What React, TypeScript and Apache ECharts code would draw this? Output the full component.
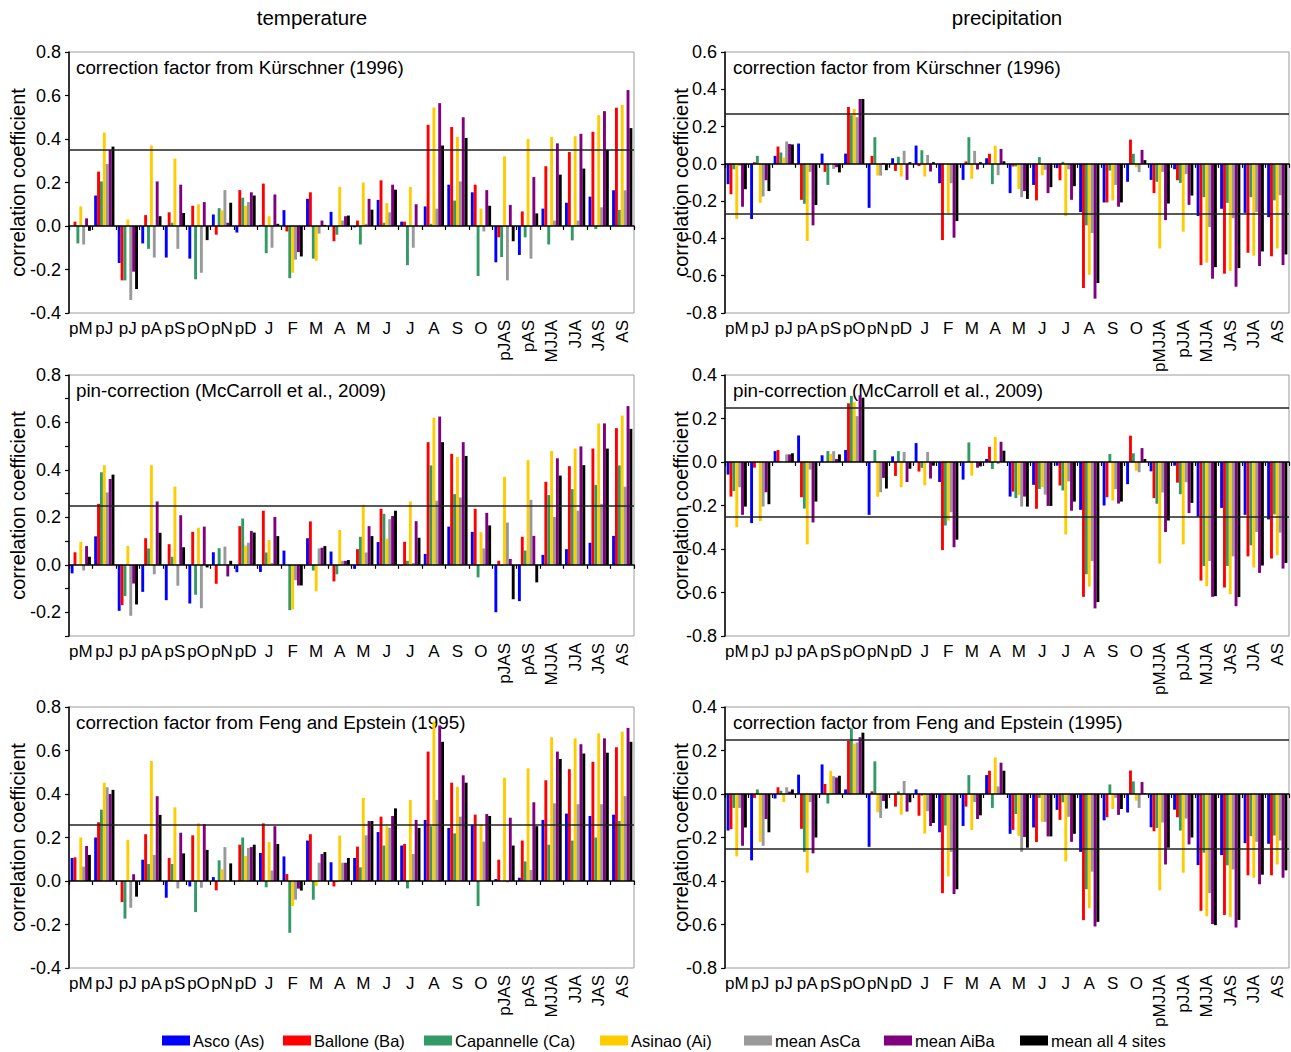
import React, { useEffect, useRef } from 'react';
import * as echarts from 'echarts';

const FONT = "'Liberation Sans', Arial, Helvetica, sans-serif";

const seriesNames = ['Asco (As)', 'Ballone (Ba)', 'Capannelle (Ca)', 'Asinao (Ai)', 'mean AsCa', 'mean AiBa', 'mean all 4 sites'];
const seriesColors = ['#0000ff', '#ff0000', '#339966', '#ffcc00', '#999999', '#800080', '#000000'];

const tempCats = ['pM', 'pJ', 'pJ', 'pA', 'pS', 'pO', 'pN', 'pD', 'J', 'F', 'M', 'A', 'M', 'J', 'J', 'A', 'S', 'O', 'pJAS', 'pAS', 'MJJA', 'JJA', 'JAS', 'AS'];
const precCats = ['pM', 'pJ', 'pJ', 'pA', 'pS', 'pO', 'pN', 'pD', 'J', 'F', 'M', 'A', 'M', 'J', 'J', 'A', 'S', 'O', 'pMJJA', 'pJJA', 'MJJA', 'JAS', 'JJA', 'AS'];

const panelTitles = [
  'correction factor from Kürschner (1996)',
  'correction factor from Kürschner (1996)',
  'pin-correction (McCarroll et al., 2009)',
  'pin-correction (McCarroll et al., 2009)',
  'correction factor from Feng and Epstein (1995)',
  'correction factor from Feng and Epstein (1995)',
];

// rows: As, Ba, Ca, Ai, mean AsCa, mean AiBa, mean all 4
const tempKurschner = [
  [0, 0.14, -0.17, -0.08, -0.145, -0.15, 0.053, -0.03, 0.005, 0.073, 0.125, 0.065, -0.006, 0.12, 0.02, 0.09, 0.19, 0.155, -0.167, -0.133, 0.08, 0.107, 0.135, 0.164],
  [0.02, 0.25, -0.25, 0.05, 0.063, 0.093, -0.04, 0.165, 0.195, -0.025, 0.155, -0.07, 0.025, 0.21, 0.02, 0.465, 0.455, 0.19, -0.052, 0.067, 0.275, 0.34, 0.433, 0.544],
  [-0.08, 0.205, -0.25, -0.105, 0.015, -0.245, 0.082, 0.13, -0.125, -0.24, -0.15, -0.04, -0.085, 0.015, -0.18, 0.01, 0.117, -0.23, -0.143, -0.052, -0.085, -0.066, -0.014, 0.074],
  [0.09, 0.43, 0.03, 0.37, 0.31, 0.1, 0.072, 0.093, 0.045, -0.215, -0.16, 0.18, 0.2, 0.105, 0.18, 0.545, 0.41, 0.08, 0.32, 0.4, 0.41, 0.413, 0.51, 0.557],
  [-0.085, 0.285, -0.34, -0.145, -0.105, -0.215, 0.165, 0.11, -0.1, -0.155, -0.035, 0.025, 0.01, 0.063, -0.1, 0.08, 0.205, -0.025, -0.25, -0.15, 0.025, 0.025, 0.086, 0.164],
  [0.035, 0.35, -0.21, 0.205, 0.19, 0.11, 0.015, 0.155, 0.145, -0.12, 0.025, 0.045, 0.125, 0.19, 0.1, 0.565, 0.5, 0.165, 0.097, 0.225, 0.38, 0.424, 0.528, 0.625],
  [-0.022, 0.365, -0.29, 0.045, 0.06, -0.065, 0.107, 0.14, 0.01, -0.14, 0.005, 0.048, 0.075, 0.167, 0, 0.37, 0.405, 0.093, -0.07, 0.058, 0.236, 0.264, 0.35, 0.45],
];

const tempPin = [
  [-0.036, 0.12, -0.194, -0.114, -0.149, -0.163, 0.053, -0.031, -0.03, 0.06, 0.112, 0.056, -0.017, 0.096, -0.003, 0.046, 0.161, 0.139, -0.2, -0.153, 0.042, 0.066, 0.093, 0.122],
  [0.053, 0.257, -0.17, 0.112, 0.087, 0.139, -0.08, 0.163, 0.228, 0, 0.183, -0.07, 0.066, 0.236, 0.097, 0.517, 0.468, 0.236, 0.017, 0.118, 0.35, 0.416, 0.49, 0.576],
  [0, 0.39, -0.132, 0.069, 0.034, -0.126, 0.07, 0.195, 0.052, -0.191, -0.024, -0.04, 0.118, 0.215, 0.017, 0.419, 0.298, -0.053, -0.003, 0.06, 0.294, 0.319, 0.337, 0.419],
  [0.097, 0.42, 0.079, 0.42, 0.33, 0.156, 0, 0.081, 0.105, -0.188, -0.112, 0.147, 0.253, 0.11, 0.267, 0.62, 0.455, 0.138, 0.371, 0.441, 0.48, 0.49, 0.596, 0.629],
  [-0.024, 0.305, -0.215, -0.04, -0.088, -0.183, 0.077, 0.093, 0.008, -0.065, 0.069, 0.017, 0.052, 0.192, 0.008, 0.27, 0.284, 0.069, 0.178, 0.274, 0.202, 0.228, 0.257, 0.329],
  [0.079, 0.362, -0.079, 0.267, 0.209, 0.161, -0.049, 0.143, 0.202, -0.087, 0.072, 0.017, 0.163, 0.206, 0.184, 0.625, 0.517, 0.219, 0.025, 0.122, 0.449, 0.499, 0.596, 0.669],
  [0.034, 0.38, -0.167, 0.135, 0.074, -0.011, 0.017, 0.136, 0.121, -0.087, 0.079, 0.02, 0.121, 0.228, 0.114, 0.517, 0.459, 0.166, -0.145, -0.074, 0.376, 0.42, 0.49, 0.573],
];

const tempFeng = [
  [0.106, 0.2, 0, 0.098, -0.077, -0.025, 0.018, 0, 0.129, 0.113, 0.186, 0.086, 0.106, 0.225, 0.163, 0.281, 0.244, 0.259, 0.009, 0.015, 0.281, 0.31, 0.299, 0.305],
  [0.109, 0.27, -0.097, 0.215, 0.106, 0.21, -0.043, 0.167, 0.265, 0.032, 0.215, -0.025, 0.158, 0.296, 0.17, 0.595, 0.452, 0.305, 0.098, 0.186, 0.463, 0.514, 0.548, 0.615],
  [0.003, 0.328, -0.173, 0.078, 0.078, -0.143, 0.095, 0.2, -0.029, -0.238, -0.086, -0.005, 0.063, 0.163, -0.034, 0.252, 0.219, -0.115, 0, 0.09, 0.167, 0.186, 0.2, 0.276],
  [0.2, 0.452, 0.19, 0.552, 0.339, 0.265, 0.054, 0.115, 0.179, -0.115, -0.023, 0.209, 0.382, 0.252, 0.373, 0.733, 0.433, 0.259, 0.475, 0.518, 0.661, 0.656, 0.679, 0.687],
  [0.066, 0.431, -0.123, 0.12, -0.034, -0.031, 0.156, 0.152, 0.048, -0.086, 0.084, 0.084, 0.21, 0.245, 0.124, 0.373, 0.296, 0.181, -0.006, 0.051, 0.357, 0.353, 0.353, 0.39],
  [0.161, 0.4, 0.031, 0.39, 0.222, 0.262, 0, 0.156, 0.252, -0.035, 0.124, 0.084, 0.276, 0.299, 0.281, 0.715, 0.486, 0.308, 0.291, 0.362, 0.595, 0.629, 0.656, 0.704],
  [0.12, 0.419, -0.072, 0.304, 0.127, 0.143, 0.081, 0.167, 0.17, -0.044, 0.133, 0.106, 0.276, 0.334, 0.244, 0.64, 0.452, 0.299, 0.163, 0.252, 0.561, 0.586, 0.59, 0.64],
];

const precKurschner = [
  [-0.109, -0.296, 0.043, 0.109, 0.055, 0.055, -0.236, 0.03, 0.098, -0.104, -0.086, 0.03, -0.157, -0.113, -0.023, -0.259, -0.207, -0.096, -0.086, -0.029, -0.28, -0.241, -0.263, -0.286],
  [-0.163, 0.009, 0.093, -0.193, -0.043, 0.305, 0.043, -0.038, -0.012, -0.409, 0.013, 0.054, -0.014, -0.196, -0.088, -0.666, -0.207, 0.13, -0.157, -0.088, -0.543, -0.589, -0.477, -0.496],
  [-0.029, 0.043, 0.061, -0.214, -0.113, 0.261, 0.143, 0.038, 0.073, 0, 0.143, -0.109, -0.014, 0.036, 0.011, -0.33, -0.036, 0.054, -0.096, -0.102, -0.179, -0.209, -0.179, -0.196],
  [-0.296, -0.209, 0.034, -0.414, 0, 0.295, -0.063, -0.068, -0.068, -0.264, -0.08, 0.098, -0.136, -0.061, -0.28, -0.595, -0.196, -0.018, -0.454, -0.364, -0.53, -0.575, -0.493, -0.454],
  [-0.01, -0.175, 0.12, -0.043, -0.027, 0.25, -0.063, 0.07, 0.048, -0.104, 0.07, -0.061, -0.179, -0.032, -0.029, -0.371, -0.113, -0.045, -0.043, -0.055, -0.339, -0.291, -0.259, -0.168],
  [-0.23, -0.088, 0.107, -0.33, -0.018, 0.348, 0.005, -0.086, -0.041, -0.396, -0.03, 0.08, -0.146, -0.157, -0.193, -0.723, -0.23, 0.075, -0.302, -0.22, -0.616, -0.659, -0.548, -0.543],
  [-0.136, -0.146, 0.104, -0.221, -0.046, 0.348, -0.034, 0.009, 0.009, -0.307, 0.009, 0.014, -0.188, -0.125, -0.12, -0.639, -0.207, 0.02, -0.213, -0.17, -0.554, -0.559, -0.47, -0.486],
];

const precPin = [
  [-0.058, -0.281, 0.05, 0.122, 0.031, 0.055, -0.243, 0.026, 0.087, -0.092, -0.081, 0.014, -0.159, -0.105, -0.017, -0.22, -0.2, -0.102, -0.043, -0.017, -0.252, -0.211, -0.243, -0.264],
  [-0.159, -0.026, 0.055, -0.162, 0, 0.27, 0, -0.064, -0.044, -0.405, -0.002, 0.07, -0.136, -0.215, -0.108, -0.62, -0.162, 0.121, -0.166, -0.095, -0.545, -0.577, -0.434, -0.444],
  [-0.134, 0, 0.003, -0.214, 0.05, 0.304, 0.055, 0.05, -0.027, -0.292, 0.09, -0.032, -0.166, -0.124, -0.131, -0.516, 0.037, 0.04, -0.192, -0.148, -0.478, -0.478, -0.383, -0.241],
  [-0.3, -0.272, 0, -0.379, 0.037, 0.275, -0.16, -0.116, -0.107, -0.269, -0.063, 0.115, -0.151, -0.116, -0.333, -0.573, -0.177, -0.04, -0.467, -0.379, -0.571, -0.608, -0.485, -0.429],
  [-0.116, -0.205, 0.035, -0.035, 0.05, 0.211, -0.139, 0.046, 0.046, -0.231, 0, -0.009, -0.205, -0.15, -0.089, -0.456, -0.125, -0.047, -0.14, -0.093, -0.455, -0.434, -0.322, -0.325],
  [-0.243, -0.139, 0.035, -0.278, 0.014, 0.307, -0.073, -0.092, -0.076, -0.392, -0.026, 0.093, -0.159, -0.202, -0.224, -0.673, -0.191, 0.064, -0.322, -0.235, -0.62, -0.663, -0.51, -0.49],
  [-0.205, -0.194, 0.04, -0.182, 0.035, 0.296, -0.122, -0.031, -0.017, -0.357, -0.02, 0.052, -0.205, -0.202, -0.182, -0.644, -0.182, 0.014, -0.269, -0.188, -0.617, -0.621, -0.476, -0.464],
];

const precFeng = [
  [-0.168, -0.305, -0.021, 0.089, 0.136, 0.021, -0.243, 0, 0.021, -0.176, -0.147, 0.087, -0.183, -0.154, -0.073, -0.266, -0.121, -0.085, -0.153, -0.072, -0.327, -0.281, -0.226, -0.229],
  [-0.162, -0.018, 0.031, -0.16, 0.046, 0.244, 0.012, -0.058, -0.1, -0.456, -0.058, 0.107, -0.165, -0.221, -0.119, -0.58, -0.107, 0.108, -0.171, -0.107, -0.537, -0.556, -0.374, -0.374],
  [-0.064, 0.021, 0.015, -0.266, -0.044, 0.302, 0.15, 0.012, -0.008, -0.145, 0.087, -0.064, -0.092, -0.018, -0.038, -0.438, 0.044, 0.058, -0.156, -0.168, -0.27, -0.328, -0.194, -0.191],
  [-0.287, -0.22, -0.037, -0.362, 0.107, 0.232, -0.084, -0.095, -0.182, -0.379, -0.166, 0.168, -0.192, -0.128, -0.31, -0.525, -0.069, -0.031, -0.443, -0.362, -0.562, -0.565, -0.385, -0.324],
  [-0.064, -0.238, 0.031, -0.037, 0.082, 0.237, -0.11, 0.06, -0.079, -0.267, -0.037, 0.035, -0.266, -0.128, -0.105, -0.357, -0.018, -0.064, -0.131, -0.113, -0.456, -0.347, -0.22, -0.214],
  [-0.238, -0.115, 0.011, -0.273, 0.076, 0.261, -0.032, -0.081, -0.147, -0.46, -0.115, 0.144, -0.198, -0.195, -0.22, -0.609, -0.096, 0.055, -0.324, -0.232, -0.598, -0.614, -0.415, -0.385],
  [-0.154, -0.176, 0.021, -0.2, 0.084, 0.282, -0.067, -0.038, -0.133, -0.438, -0.098, 0.107, -0.247, -0.195, -0.183, -0.588, -0.069, 0.003, -0.247, -0.2, -0.603, -0.579, -0.371, -0.351],
];

// panel order: row-major (temp left, prec right)
const panelData = [tempKurschner, precKurschner, tempPin, precPin, tempFeng, precFeng];
const panelIsTemp = [true, false, true, false, true, false];
const panelThresholds = [0.35, 0.27, 0.25, 0.25, 0.26, 0.25];
const panelYMin = [-0.4, -0.8, -0.3, -0.8, -0.4, -0.8];
const panelYMax = [0.8, 0.6, 0.8, 0.4, 0.8, 0.4];
const panelYInterval = [0.2, 0.2, 0.1, 0.2, 0.2, 0.2];

const rowTops = [52, 375, 707];
const colLefts = [69, 725];
const colWidths = [565, 564];
const plotHeight = 261;
const legendLefts = [162, 283, 424, 600, 744, 884, 1020];

function fmtTick(v: number) {
  const r = Math.round(v * 10);
  if (r % 2 !== 0) return '';
  return (r / 10).toFixed(1);
}

function buildOption() {
  const grid: any[] = [];
  const xAxis: any[] = [];
  const yAxis: any[] = [];
  const series: any[] = [];
  const graphic: any[] = [];

  panelData.forEach((rows, i) => {
    const col = i % 2;
    const row = Math.floor(i / 2);
    const cats = panelIsTemp[i] ? tempCats : precCats;
    grid.push({
      left: colLefts[col],
      top: rowTops[row],
      width: colWidths[col],
      height: plotHeight,
      show: true,
      borderColor: '#9a9a9a',
      borderWidth: 1,
      backgroundColor: 'transparent',
    });
    const base = xAxis.length;
    xAxis.push({
      type: 'category',
      gridIndex: i,
      data: cats,
      position: 'bottom',
      axisLine: { show: true, onZero: true, lineStyle: { color: '#000', width: 1.5 } },
      axisTick: { show: true, interval: 0, length: 4, lineStyle: { color: '#000', width: 1.2 } },
      axisLabel: { show: false },
      splitLine: { show: false },
      z: 5,
    });
    xAxis.push({
      type: 'category',
      gridIndex: i,
      data: cats,
      position: 'bottom',
      axisLine: { show: false, onZero: false },
      axisTick: { show: false },
      splitLine: { show: false },
      axisLabel: {
        interval: 0,
        margin: 7,
        fontSize: 17,
        fontFamily: FONT,
        color: '#000',
        formatter: (v: string, idx: number) => (idx < 18 ? v : ''),
      },
    });
    xAxis.push({
      type: 'category',
      gridIndex: i,
      data: cats,
      position: 'bottom',
      axisLine: { show: false, onZero: false },
      axisTick: { show: false },
      splitLine: { show: false },
      axisLabel: {
        interval: 0,
        rotate: 90,
        margin: 7,
        fontSize: 17,
        fontFamily: FONT,
        color: '#000',
        formatter: (v: string, idx: number) => (idx >= 18 ? v : ''),
      },
    });
    yAxis.push({
      type: 'value',
      gridIndex: i,
      min: panelYMin[i],
      max: panelYMax[i],
      interval: panelYInterval[i],
      axisLine: { show: true, onZero: false, lineStyle: { color: '#000', width: 1.5 } },
      axisTick: { show: true, length: 4, lineStyle: { color: '#000', width: 1.2 } },
      splitLine: { show: false },
      axisLabel: { formatter: fmtTick, fontSize: 18, fontFamily: FONT, color: '#000', margin: 8 },
      name: 'correlation coefficient',
      nameLocation: 'middle',
      nameRotate: 90,
      nameMoveOverlap: false,
      nameGap: col === 0 ? 41 : 34,
      nameTextStyle: { fontSize: 20, fontFamily: FONT, color: '#000' },
    });
    const t = panelThresholds[i];
    const mlData = panelIsTemp[i] ? [{ yAxis: t }] : [{ yAxis: t }, { yAxis: -t }];
    rows.forEach((vals, s) => {
      series.push({
        type: 'bar',
        name: seriesNames[s],
        xAxisIndex: base,
        yAxisIndex: i,
        data: vals,
        itemStyle: { color: seriesColors[s] },
        barGap: '0%',
        barCategoryGap: '14%',
        silent: true,
        markLine:
          s === 6
            ? {
                silent: true,
                symbol: ['none', 'none'],
                label: { show: false },
                lineStyle: { color: '#222', width: 1.5, type: 'solid' },
                data: mlData,
              }
            : undefined,
      });
    });
    graphic.push({
      type: 'text',
      x: col === 0 ? 76 : 733,
      y: rowTops[row] + 15,
      style: {
        text: panelTitles[i],
        font: `18.8px ${FONT}`,
        fill: '#000',
        textAlign: 'left',
        align: 'left',
        textVerticalAlign: 'middle',
        verticalAlign: 'middle',
      },
    });
  });

  graphic.push({
    type: 'text',
    x: 312,
    y: 17,
    style: { text: 'temperature', font: `20.5px ${FONT}`, fill: '#000', textAlign: 'center', align: 'center', textVerticalAlign: 'middle', verticalAlign: 'middle' },
  });
  graphic.push({
    type: 'text',
    x: 1007,
    y: 17,
    style: { text: 'precipitation', font: `20.5px ${FONT}`, fill: '#000', textAlign: 'center', align: 'center', textVerticalAlign: 'middle', verticalAlign: 'middle' },
  });

  const legend = seriesNames.map((n, k) => ({
    data: [n],
    left: legendLefts[k],
    top: 1032,
    padding: 0,
    itemWidth: 28,
    itemHeight: 10,
    icon: 'rect',
    selectedMode: false,
    textStyle: { fontSize: 16.5, fontFamily: FONT, color: '#000', padding: [0, 0, 0, -2] },
  }));

  return {
    animation: false,
    backgroundColor: '#fff',
    textStyle: { fontFamily: FONT },
    grid,
    xAxis,
    yAxis,
    series,
    graphic,
    legend,
  };
}

export default function App() {
  const ref = useRef<HTMLDivElement>(null);
  useEffect(() => {
    if (!ref.current) return;
    const chart = echarts.init(ref.current, undefined, { renderer: 'svg' });
    chart.setOption(buildOption() as any);
    return () => chart.dispose();
  }, []);
  return (
    <div
      ref={ref}
      style={{ position: 'absolute', left: 0, top: 0, width: 1291, height: 1052, background: '#fff' }}
    />
  );
}
